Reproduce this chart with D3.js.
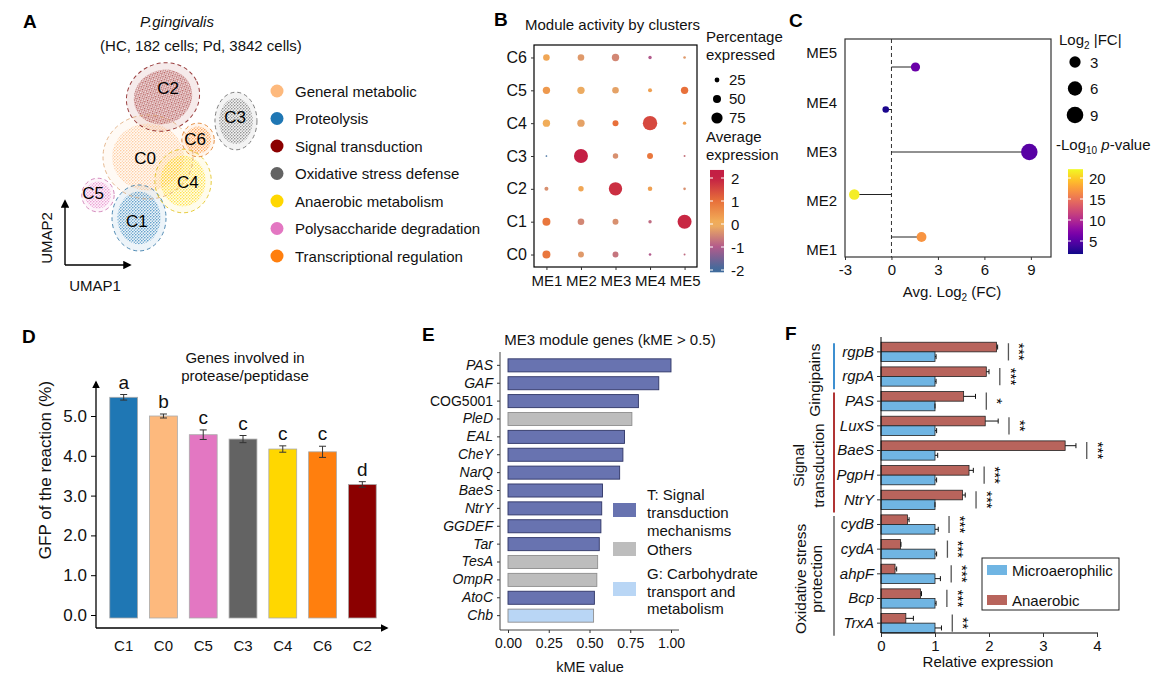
<!DOCTYPE html>
<html>
<head>
<meta charset="utf-8">
<script src="https://cdn.jsdelivr.net/npm/d3@7"></script>
<style>
    body { margin: 0; background: #fff; }
    text { font-family: "Liberation Sans", Arial, Helvetica, sans-serif; }
</style>
</head>
<body>
<svg id="fig" width="1161" height="681"></svg>
<script>
// ---------- A: UMAP clusters
const clusters = ["C0", "C1", "C2", "C3", "C4", "C5", "C6"];
const clusterNames = ["General metabolic", "Proteolysis", "Signal transduction", "Oxidative stress defense",
    "Anaerobic metabolism", "Polysaccharide degradation", "Transcriptional regulation"];
const clusterColors = ["#fdb97d", "#1f77b4", "#8b0000", "#636363", "#ffd700", "#e377c2", "#ff7f0e"];
// cluster centre / spread in UMAP units
const umapX = [-1.5, -2.25, -0.25, 5.83, 1.42, -5.67, 2.67];
const umapY = [0.75, -4.33, 5.75, 3.75, -1.25, -2.42, 2.17];
const umapSx = [3.75, 2.25, 3.1, 1.75, 2.35, 1.35, 1.35];
const umapSy = [3.5, 2.75, 2.8, 2.4, 2.65, 1.4, 1.4];
const umapTilt = [0, 0, -25, 0, 0, 0, 0];
const umapLabX = [-1.75, -2.42, 0.17, 5.75, 1.83, -6.08, 2.42];
const umapLabY = [0.67, -4.58, 6.5, 4.08, -1.33, -2.25, 2.25];

// ---------- B: dot plot (rows C0..C6, cols ME1..ME5)
const modules = ["ME1", "ME2", "ME3", "ME4", "ME5"];
const pctExpressed = [
    [50, 34, 34, 8, 3],
    [50, 39, 34, 14, 97],
    [19, 30, 92, 23, 8],
    [1, 97, 30, 34, 3],
    [45, 45, 34, 100, 14],
    [45, 45, 39, 19, 45],
    [39, 39, 45, 14, 8]
];
const avgExpression = [
    [0.9, -0.3, -0.7, -1.0, -0.8],
    [0.9, -0.5, -0.4, -0.8, 1.9],
    [-0.4, 0.2, 1.8, 0.3, -0.4],
    [-2.0, 2.0, -0.4, 0.9, -0.7],
    [0.1, -0.2, 1.0, 1.5, 0.3],
    [0.4, -0.1, -0.2, 0.3, 1.0],
    [0.2, -0.3, -0.5, -1.0, -0.3]
];
const pctLegend = [25, 50, 75];
const avgTicks = [-2, -1, 0, 1, 2];

// ---------- C: lollipop (ME1..ME5)
const avgLog2FC = [1.94, -2.4, 8.9, -0.37, 1.55];
const negLog10P = [17, 21.5, 5, 2.3, 6];
const fcTicks = [-3, 0, 3, 6, 9];
const fcSizeLegend = [3, 6, 9];
const pTicks = [5, 10, 15, 20];

// ---------- D: GFP bars
const gfpClusters = ["C1", "C0", "C5", "C3", "C4", "C6", "C2"];
const gfpValues = [5.47, 5.0, 4.53, 4.42, 4.17, 4.1, 3.28];
const gfpErrors = [0.07, 0.05, 0.12, 0.09, 0.08, 0.14, 0.07];
const gfpLetters = ["a", "b", "c", "c", "c", "c", "d"];

// ---------- E: ME3 module genes
const me3Genes = ["PAS", "GAF", "COG5001", "PleD", "EAL", "CheY", "NarQ", "BaeS", "NtrY", "GGDEF", "Tar", "TesA", "OmpR", "AtoC", "Chb"];
const me3KME = [1.0, 0.925, 0.80, 0.76, 0.715, 0.705, 0.685, 0.58, 0.575, 0.57, 0.56, 0.55, 0.545, 0.53, 0.525];
const me3Cat = ["T", "T", "T", "O", "T", "T", "T", "T", "T", "T", "T", "O", "O", "T", "G"];
const catKeys = ["T", "O", "G"];
const catLabels = [["T: Signal", "transduction", "mechanisms"], ["Others"], ["G: Carbohydrate", "transport and", "metabolism"]];
const catColors = ["#6873b0", "#bdbdbd", "#b9d6f5"];

// ---------- F: relative expression
const relGenes = ["rgpB", "rgpA", "PAS", "LuxS", "BaeS", "PgpH", "NtrY", "cydB", "cydA", "ahpF", "Bcp", "TrxA"];
const anaerobic = [2.14, 1.95, 1.53, 1.93, 3.41, 1.63, 1.51, 0.49, 0.36, 0.26, 0.73, 0.46];
const anaerobicErr = [0.02, 0.05, 0.22, 0.24, 0.2, 0.08, 0.05, 0.03, 0.01, 0.03, 0.02, 0.14];
const microaero = [1, 1, 1, 1, 1, 1, 1, 1, 1, 1, 1, 1];
const microaeroErr = [0.02, 0.02, 0.0, 0.03, 0.05, 0.03, 0.0, 0.06, 0.03, 0.1, 0.02, 0.12];
const relSig = ["***", "***", "*", "**", "***", "***", "***", "***", "***", "***", "***", "**"];
const relGroups = [["Gingipains"], ["Signal", "transduction"], ["Oxidative stress", "protection"]];
const relGroupGenes = [["rgpB", "rgpA"], ["PAS", "NtrY"], ["cydB", "TrxA"]];
const relGroupColors = ["#3d8fd0", "#b03434", "#8a8a8a"];
const relConditions = ["Anaerobic", "Microaerophilic"];
const relCondColors = ["#b8645c", "#70b5e3"];
const relTicks = [0, 1, 2, 3, 4];

const FONT = '"Liberation Sans", Arial, Helvetica, sans-serif';
const svg = d3.select("#fig");
const defs = svg.append("defs");

defs.append("marker").attr("id", "arr")
    .attr("viewBox", "0 0 10 10").attr("refX", 8).attr("refY", 5)
    .attr("markerWidth", 6).attr("markerHeight", 6)
    .attr("orient", "auto")
    .append("path").attr("d", "M0,0L10,5L0,10z").attr("fill", "#000");

function label(g, x, y, s, size, o = {}) {
    let t = g.append("text").attr("x", x).attr("y", y)
        .attr("font-size", size).attr("font-family", FONT)
        .attr("fill", o.fill || "#111").text(s);
    if (o.anchor) t.attr("text-anchor", o.anchor);
    if (o.weight) t.attr("font-weight", o.weight);
    if (o.italic) t.attr("font-style", "italic");
    if (o.rotate) t.attr("transform", `rotate(${o.rotate},${x},${y})`);
    return t;
}

function styleAxis(g, size, keepDomain) {
    g.attr("font-family", FONT).attr("font-size", size);
    if (!keepDomain) g.select(".domain").remove();
    g.selectAll(".tick line").attr("stroke", "#333");
    g.selectAll(".tick text").attr("fill", "#111");
    return g;
}

// panel letters
[["A", 23, 28], ["B", 494, 26], ["C", 789, 27], ["D", 22, 343], ["E", 422, 341], ["F", 785, 340]]
    .forEach(d => label(svg, d[1], d[2], d[0], 19, { weight: "bold", fill: "#000" }));

// ================= A
function drawA() {
    let g = svg.append("g");
    label(g, 177, 27, "P.gingivalis", 15, { anchor: "middle", italic: true });
    label(g, 201, 51, "(HC, 182 cells; Pd, 3842 cells)", 15, { anchor: "middle" });

    let ux = d3.scaleLinear().domain([-8, 8]).range([70, 262]);
    let uy = d3.scaleLinear().domain([-8, 8]).range([262, 70]);
    let len = v => ux(v) - ux(0);

    clusterColors.forEach((c, i) => {
        let p = defs.append("pattern").attr("id", "pt" + i)
            .attr("patternUnits", "userSpaceOnUse").attr("width", 3).attr("height", 3);
        p.append("circle").attr("cx", 0.8).attr("cy", 0.8).attr("r", 0.75).attr("fill", c);
        p.append("circle").attr("cx", 2.3).attr("cy", 2.2).attr("r", 0.6).attr("fill", c);
    });

    let idx = d3.range(clusters.length);
    let tf = i => `rotate(${umapTilt[i]},${ux(umapX[i])},${uy(umapY[i])})`;

    g.selectAll(".soft").data(idx).join("ellipse")
        .attr("cx", i => ux(umapX[i])).attr("cy", i => uy(umapY[i]))
        .attr("rx", i => len(umapSx[i])).attr("ry", i => len(umapSy[i]))
        .attr("transform", tf)
        .attr("fill", i => clusterColors[i]).attr("fill-opacity", 0.08);

    g.selectAll(".dots").data(idx).join("ellipse")
        .attr("cx", i => ux(umapX[i])).attr("cy", i => uy(umapY[i]))
        .attr("rx", i => len(umapSx[i]) * 0.8).attr("ry", i => len(umapSy[i]) * 0.8)
        .attr("transform", tf)
        .attr("fill", i => `url(#pt${i})`).attr("opacity", 0.85);

    g.selectAll(".ring").data(idx).join("ellipse")
        .attr("cx", i => ux(umapX[i])).attr("cy", i => uy(umapY[i]))
        .attr("rx", i => len(umapSx[i])).attr("ry", i => len(umapSy[i]))
        .attr("transform", tf)
        .attr("fill", "none")
        .attr("stroke", i => d3.color(clusterColors[i]).darker(0.4))
        .attr("stroke-opacity", 0.75)
        .attr("stroke-dasharray", "4,3").attr("stroke-width", 1);

    idx.forEach(i => label(g, ux(umapLabX[i]), uy(umapLabY[i]) + 6, clusters[i], 17, { anchor: "middle", fill: "#000" }));

    // UMAP axes
    g.append("line").attr("x1", 65).attr("y1", 265).attr("x2", 65).attr("y2", 201)
        .attr("stroke", "#000").attr("stroke-width", 1.4).attr("marker-end", "url(#arr)");
    g.append("line").attr("x1", 65).attr("y1", 265).attr("x2", 130).attr("y2", 265)
        .attr("stroke", "#000").attr("stroke-width", 1.4).attr("marker-end", "url(#arr)");
    label(g, 52, 238, "UMAP2", 15, { anchor: "middle", rotate: -90 });
    label(g, 95, 291, "UMAP1", 15, { anchor: "middle" });

    // legend
    let ly = d3.scalePoint().domain(clusterNames).range([91, 256]);
    clusterNames.forEach((n, i) => {
        g.append("circle").attr("cx", 277).attr("cy", ly(n)).attr("r", 6.5).attr("fill", clusterColors[i]);
        label(g, 295, ly(n) + 5.5, n, 15);
    });
}

// ================= B
function drawB() {
    let g = svg.append("g");
    label(g, 525, 30, "Module activity by clusters", 15);
    let rows = clusters.slice().reverse();
    let x = d3.scalePoint().domain(modules).range([534, 697]).padding(0.36);
    let y = d3.scalePoint().domain(rows).range([45, 267]).padding(0.38);
    let r = d3.scaleLinear().domain([0, 100]).range([0.8, 7.2]);
    let col = d3.scaleLinear().domain(avgTicks)
        .range(["#3d6b9c", "#b25a8c", "#f2b45c", "#e8703a", "#c41f44"]).clamp(true);

    g.append("rect").attr("x", 534).attr("y", 45).attr("width", 163).attr("height", 222)
        .attr("fill", "none").attr("stroke", "#000").attr("stroke-width", 1.2);

    let cells = [];
    clusters.forEach((c, i) => modules.forEach((m, j) => cells.push({ c, m, p: pctExpressed[i][j], a: avgExpression[i][j] })));
    g.selectAll(".dot").data(cells).join("circle")
        .attr("cx", d => x(d.m)).attr("cy", d => y(d.c))
        .attr("r", d => r(d.p)).attr("fill", d => col(d.a));

    styleAxis(g.append("g").attr("transform", "translate(534,0)")
        .call(d3.axisLeft(y).tickSize(3).tickPadding(4)), 16);
    styleAxis(g.append("g").attr("transform", "translate(0,267)")
        .call(d3.axisBottom(x).tickSize(3).tickPadding(5)), 15);

    // size legend
    label(g, 706, 42, "Percentage", 15);
    label(g, 706, 60, "expressed", 15);
    let sy = d3.scalePoint().domain(pctLegend).range([80, 118]);
    pctLegend.forEach(v => {
        g.append("circle").attr("cx", 717).attr("cy", sy(v)).attr("r", r(v)).attr("fill", "#000");
        label(g, 729, sy(v) + 5, v, 15);
    });

    // colour bar
    label(g, 706, 142, "Average", 15);
    label(g, 706, 160, "expression", 15);
    let cb = d3.scaleLinear().domain([-2, 2]).range([270, 178]);
    let gr = defs.append("linearGradient").attr("id", "gB").attr("x1", 0).attr("y1", 1).attr("x2", 0).attr("y2", 0);
    d3.range(0, 1.0001, 0.05).forEach(t => {
        let v = -2.1 + t * 4.45;
        gr.append("stop").attr("offset", t).attr("stop-color", col(v));
    });
    g.append("rect").attr("x", 710).attr("y", cb(2.35)).attr("width", 14)
        .attr("height", cb(-2.1) - cb(2.35)).attr("fill", "url(#gB)");
    avgTicks.forEach(v => {
        g.append("line").attr("x1", 710).attr("x2", 713).attr("y1", cb(v)).attr("y2", cb(v)).attr("stroke", "#fff");
        g.append("line").attr("x1", 721).attr("x2", 724).attr("y1", cb(v)).attr("y2", cb(v)).attr("stroke", "#fff");
        label(g, 731, cb(v) + 5.5, v < 0 ? "-" + Math.abs(v) : String(v), 15);
    });
}

// ================= C
function drawC() {
    let g = svg.append("g");
    let mods = modules.slice().reverse();
    let x = d3.scaleLinear().domain([-3, 10.3]).range([845, 1051]);
    let yLab = d3.scalePoint().domain(mods).range([53, 250]);
    let yDot = d3.scalePoint().domain(mods).range([67, 237]);
    let r = d3.scaleSqrt().domain([0, 9]).range([2, 8.3]);
    let col = d3.scaleSequential(d3.interpolatePlasma).domain([1.9, 22.1]);

    g.append("rect").attr("x", 845).attr("y", 39).attr("width", 206).attr("height", 218)
        .attr("fill", "none").attr("stroke", "#333").attr("stroke-width", 1.2);
    g.append("line").attr("x1", x(0)).attr("x2", x(0)).attr("y1", 39).attr("y2", 257)
        .attr("stroke", "#333").attr("stroke-dasharray", "4,3");

    let pts = modules.map((m, i) => ({ m, fc: avgLog2FC[i], p: negLog10P[i] }));
    g.selectAll(".stem").data(pts).join("line")
        .attr("x1", x(0)).attr("x2", d => x(d.fc))
        .attr("y1", d => yDot(d.m)).attr("y2", d => yDot(d.m))
        .attr("stroke", "#222").attr("stroke-width", 1);
    g.selectAll(".pt").data(pts).join("circle")
        .attr("cx", d => x(d.fc)).attr("cy", d => yDot(d.m))
        .attr("r", d => r(Math.abs(d.fc))).attr("fill", d => col(d.p));

    styleAxis(g.append("g").attr("transform", "translate(845,0)")
        .call(d3.axisLeft(yLab).tickSize(0).tickPadding(8)), 15);
    let ax = styleAxis(g.append("g").attr("transform", "translate(0,257)")
        .call(d3.axisBottom(x).tickValues(fcTicks).tickSize(3).tickPadding(4)), 15);
    ax.selectAll(".tick text").text(d => d < 0 ? "-" + Math.abs(d) : d);

    let t = g.append("text").attr("x", 952).attr("y", 297).attr("text-anchor", "middle")
        .attr("font-size", 15).attr("font-family", FONT).attr("fill", "#111");
    t.append("tspan").text("Avg. Log");
    t.append("tspan").attr("font-size", 10).attr("dy", 4).text("2");
    t.append("tspan").attr("dy", -4).text(" (FC)");

    // size legend
    let t2 = g.append("text").attr("x", 1059).attr("y", 45).attr("font-size", 15).attr("font-family", FONT).attr("fill", "#111");
    t2.append("tspan").text("Log");
    t2.append("tspan").attr("font-size", 10).attr("dy", 4).text("2");
    t2.append("tspan").attr("dy", -4).text(" |FC|");
    let sy = d3.scalePoint().domain(fcSizeLegend).range([62, 115]);
    fcSizeLegend.forEach(v => {
        g.append("circle").attr("cx", 1075).attr("cy", sy(v)).attr("r", r(v)).attr("fill", "#000");
        label(g, 1090, sy(v) + 5.5, v, 15);
    });

    // colour bar
    let t3 = g.append("text").attr("x", 1056).attr("y", 150).attr("font-size", 15).attr("font-family", FONT).attr("fill", "#111");
    t3.append("tspan").text("-Log");
    t3.append("tspan").attr("font-size", 10).attr("dy", 4).text("10");
    t3.append("tspan").attr("dy", -4).text(" ");
    t3.append("tspan").attr("font-style", "italic").text("p");
    t3.append("tspan").text("-value");
    let cb = d3.scaleLinear().domain([5, 20]).range([241, 178]);
    let gr = defs.append("linearGradient").attr("id", "gC").attr("x1", 0).attr("y1", 1).attr("x2", 0).attr("y2", 0);
    d3.range(0, 1.0001, 0.05).forEach(s => gr.append("stop").attr("offset", s).attr("stop-color", d3.interpolatePlasma(s)));
    g.append("rect").attr("x", 1068).attr("y", cb(22.1)).attr("width", 15)
        .attr("height", cb(1.9) - cb(22.1)).attr("fill", "url(#gC)");
    pTicks.forEach(v => {
        g.append("line").attr("x1", 1068).attr("x2", 1071).attr("y1", cb(v)).attr("y2", cb(v)).attr("stroke", "#fff");
        g.append("line").attr("x1", 1080).attr("x2", 1083).attr("y1", cb(v)).attr("y2", cb(v)).attr("stroke", "#fff");
        label(g, 1089, cb(v) + 5.5, v, 15);
    });
}

// ================= D
function drawD() {
    let g = svg.append("g");
    label(g, 245, 363, "Genes involved in", 15, { anchor: "middle" });
    label(g, 245, 381, "protease/peptidase", 15, { anchor: "middle" });
    let x = d3.scaleBand().domain(gfpClusters).range([103, 383]).paddingInner(0.3).paddingOuter(0.17);
    let y = d3.scaleLinear().domain([0, 5]).range([615, 416]);
    let colOf = c => clusterColors[clusters.indexOf(c)];
    let data = gfpClusters.map((c, i) => ({ c, v: gfpValues[i], e: gfpErrors[i], l: gfpLetters[i] }));

    g.selectAll(".bar").data(data).join("rect")
        .attr("x", d => x(d.c)).attr("width", x.bandwidth())
        .attr("y", d => y(d.v)).attr("height", d => y(0) + 3 - y(d.v))
        .attr("fill", d => colOf(d.c)).attr("stroke", "#aaa").attr("stroke-width", 0.8);

    let eb = g.selectAll(".eb").data(data).join("g").attr("stroke", "#333").attr("stroke-width", 1);
    eb.append("line").attr("x1", d => x(d.c) + x.bandwidth() / 2).attr("x2", d => x(d.c) + x.bandwidth() / 2)
        .attr("y1", d => y(d.v - d.e)).attr("y2", d => y(d.v + d.e));
    [-1, 1].forEach(s => eb.append("line")
        .attr("x1", d => x(d.c) + x.bandwidth() / 2 - 3.5).attr("x2", d => x(d.c) + x.bandwidth() / 2 + 3.5)
        .attr("y1", d => y(d.v + s * d.e)).attr("y2", d => y(d.v + s * d.e)));

    g.selectAll(".let").data(data).join("text")
        .attr("x", d => x(d.c) + x.bandwidth() / 2).attr("y", d => y(d.v + d.e) - 6)
        .attr("text-anchor", "middle").attr("font-size", 19).attr("font-family", FONT).attr("fill", "#111")
        .text(d => d.l);

    g.append("line").attr("x1", 96).attr("y1", 628).attr("x2", 96).attr("y2", 382)
        .attr("stroke", "#000").attr("stroke-width", 1.3).attr("marker-end", "url(#arr)");
    g.append("line").attr("x1", 96).attr("y1", 628).attr("x2", 387).attr("y2", 628)
        .attr("stroke", "#000").attr("stroke-width", 1.3).attr("marker-end", "url(#arr)");

    let ay = styleAxis(g.append("g").attr("transform", "translate(96,0)")
        .call(d3.axisLeft(y).ticks(6).tickFormat(d3.format(".1f")).tickSize(5).tickPadding(4)), 17);
    ay.selectAll(".tick line").attr("stroke", "#000");
    styleAxis(g.append("g").attr("transform", "translate(0,628)")
        .call(d3.axisBottom(x).tickSize(0).tickPadding(12)), 15);
    label(g, 51, 470, "GFP of the reaction (%)", 17, { anchor: "middle", rotate: -90 });
}

// ================= E
function drawE() {
    let g = svg.append("g");
    label(g, 610, 345, "ME3 module genes (kME > 0.5)", 15, { anchor: "middle" });
    let x = d3.scaleLinear().domain([0, 1]).range([508, 671]);
    let y = d3.scaleBand().domain(me3Genes).range([354, 627]).padding(0.27);
    let colOf = c => catColors[catKeys.indexOf(c)];
    let data = me3Genes.map((n, i) => ({ n, v: me3KME[i], c: me3Cat[i] }));

    g.selectAll(".bar").data(data).join("rect")
        .attr("x", x(0)).attr("y", d => y(d.n))
        .attr("width", d => x(d.v) - x(0)).attr("height", y.bandwidth())
        .attr("fill", d => colOf(d.c))
        .attr("stroke", d => d.c === "T" ? "#2f3566" : "#8e8e8e").attr("stroke-width", 0.9);

    g.append("line").attr("x1", 500).attr("x2", 500).attr("y1", 352).attr("y2", 630).attr("stroke", "#444");
    g.append("line").attr("x1", 500).attr("x2", 679).attr("y1", 630).attr("y2", 630).attr("stroke", "#444");
    let ay = styleAxis(g.append("g").attr("transform", "translate(500,0)")
        .call(d3.axisLeft(y).tickSize(3).tickPadding(4)), 14);
    ay.selectAll(".tick text").attr("font-style", d => d === "COG5001" ? "normal" : "italic");
    styleAxis(g.append("g").attr("transform", "translate(0,630)")
        .call(d3.axisBottom(x).tickValues([0, 0.25, 0.5, 0.75, 1]).tickFormat(d3.format(".2f")).tickSize(3).tickPadding(5)), 14);
    label(g, 590, 672, "kME value", 14.5, { anchor: "middle" });

    // legend
    let swY = [503, 542, 582];
    let txY = [[500, 518, 536], [555], [579, 597, 614]];
    catKeys.forEach((k, i) => {
        g.append("rect").attr("x", 613).attr("y", swY[i]).attr("width", 23).attr("height", 14).attr("fill", catColors[i]);
        catLabels[i].forEach((s, j) => label(g, 647, txY[i][j], s, 15));
    });
}

// ================= F
function drawF() {
    let g = svg.append("g");
    let x = d3.scaleLinear().domain([0, 4]).range([881, 1097]);
    let y = d3.scaleBand().domain(relGenes).range([341, 634]).paddingInner(0.22).paddingOuter(0.05);
    let sub = d3.scaleBand().domain(relConditions).range([0, y.bandwidth()]);
    let data = relGenes.map((n, i) => ({
        n, sig: relSig[i],
        vals: [{ k: "Anaerobic", v: anaerobic[i], e: anaerobicErr[i] }, { k: "Microaerophilic", v: microaero[i], e: microaeroErr[i] }]
    }));

    let rows = g.selectAll(".row").data(data).join("g").attr("transform", d => `translate(0,${y(d.n)})`);
    let bars = rows.selectAll("g").data(d => d.vals).join("g");
    bars.append("rect").attr("x", x(0)).attr("y", d => sub(d.k))
        .attr("width", d => x(d.v) - x(0)).attr("height", sub.bandwidth())
        .attr("fill", d => relCondColors[relConditions.indexOf(d.k)])
        .attr("stroke", "#222").attr("stroke-width", 0.8);
    bars.append("line").attr("x1", d => x(d.v)).attr("x2", d => x(d.v + d.e))
        .attr("y1", d => sub(d.k) + sub.bandwidth() / 2).attr("y2", d => sub(d.k) + sub.bandwidth() / 2)
        .attr("stroke", "#111").attr("stroke-width", 1);
    bars.append("line").attr("x1", d => x(d.v + d.e)).attr("x2", d => x(d.v + d.e))
        .attr("y1", d => sub(d.k) + sub.bandwidth() / 2 - 2.5).attr("y2", d => sub(d.k) + sub.bandwidth() / 2 + 2.5)
        .attr("stroke", "#111").attr("stroke-width", 1);

    // significance marks
    let top = d => d3.max(d.vals, v => v.v + v.e) + 0.2;
    rows.append("line").attr("x1", d => x(top(d))).attr("x2", d => x(top(d)))
        .attr("y1", 1).attr("y2", y.bandwidth() - 1)
        .attr("stroke", "#555").attr("stroke-width", 1.3);
    rows.append("text")
        .attr("transform", d => `translate(${x(top(d)) + 6},${y.bandwidth() / 2}) rotate(90)`)
        .attr("text-anchor", "middle").attr("font-size", 15).attr("font-family", FONT).attr("fill", "#000")
        .text(d => d.sig);

    g.append("line").attr("x1", 881).attr("x2", 881).attr("y1", 337).attr("y2", 633).attr("stroke", "#000");
    g.append("line").attr("x1", 881).attr("x2", 1098).attr("y1", 633).attr("y2", 633).attr("stroke", "#000");
    let ay = styleAxis(g.append("g").attr("transform", "translate(881,0)")
        .call(d3.axisLeft(y).tickSize(4).tickPadding(3)), 15);
    ay.selectAll(".tick text").attr("font-style", "italic");
    styleAxis(g.append("g").attr("transform", "translate(0,633)")
        .call(d3.axisBottom(x).tickValues(relTicks).tickFormat(d3.format("d")).tickSize(4).tickPadding(3)), 15);
    label(g, 988, 667, "Relative expression", 15, { anchor: "middle" });

    // group brackets
    let labX = [[820], [804, 824], [806, 822]];
    let labShift = [14, 13, 3];
    relGroupGenes.forEach((pair, i) => {
        let y0 = y(pair[0]) + 1, y1 = y(pair[1]) + y.bandwidth() + 3;
        g.append("line").attr("x1", 834).attr("x2", 834).attr("y1", y0).attr("y2", y1)
            .attr("stroke", relGroupColors[i]).attr("stroke-width", 2);
        relGroups[i].forEach((s, j) => label(g, labX[i][j], (y0 + y1) / 2 + labShift[i], s, 15.5, { anchor: "middle", rotate: -90 }));
    });

    // legend
    g.append("rect").attr("x", 982).attr("y", 558).attr("width", 137).attr("height", 52)
        .attr("fill", "#fff").attr("stroke", "#222");
    let legOrder = ["Microaerophilic", "Anaerobic"];
    let legY = d3.scalePoint().domain(legOrder).range([570, 600]);
    legOrder.forEach(k => {
        g.append("rect").attr("x", 987).attr("y", legY(k) - 5).attr("width", 20).attr("height", 10)
            .attr("fill", relCondColors[relConditions.indexOf(k)]);
        label(g, 1012, legY(k) + 5.5, k, 15);
    });
}

drawA();
drawB();
drawC();
drawD();
drawE();
drawF();
</script>
</body>
</html>
